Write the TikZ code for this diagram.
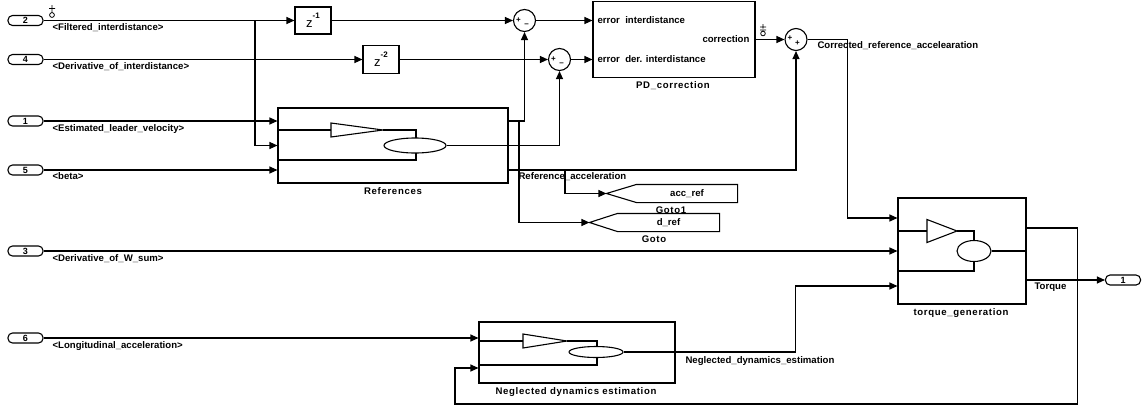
\documentclass[tikz,border=0pt]{standalone}
\usepackage{fontspec}
\setmainfont{Liberation Sans}
\newfontfamily\namefont[LetterSpace=7]{Liberation Sans}
\usetikzlibrary{arrows.meta,positioning,calc,shapes.geometric}
\newcommand{\zlabel}[1]{\raisebox{-3pt}{\fontsize{13}{13}\selectfont z}\raisebox{6pt}{\fontsize{8}{8}\selectfont\bfseries #1}}

\begin{document}
\begin{tikzpicture}[x=1pt,y=-1pt,line width=1.1pt,
port/.style={draw,rounded corners=4.5pt,minimum width=35pt,minimum height=10pt,inner sep=0pt,font=\fontsize{9}{9}\selectfont\bfseries},
block/.style={draw,inner sep=0pt},
sumblock/.style={draw,circle,minimum size=22pt,inner sep=0pt},
icon oval/.style={draw,ellipse,fill=white,inner sep=0pt},
goto body/.style={inner sep=0pt,minimum height=17pt,font=\fontsize{9.6}{11}\selectfont\bfseries},
sig/.style={-{Triangle[length=8pt,width=7pt]}},
sig label/.style={inner sep=0pt,anchor=base west,font=\fontsize{9.6}{11}\selectfont\bfseries},
block name/.style={inner sep=0pt,anchor=base,font=\namefont\fontsize{9.6}{11}\selectfont\bfseries},
sign/.style={inner sep=0pt,font=\fontsize{8}{8}\selectfont\bfseries}]
\useasboundingbox (0,0) rectangle (1142,407);
% ports
\node[port] (in2) at (25.5,20.5) {2};
\node[port] (in4) at (25.5,59.5) {4};
\node[port] (in1) at (25.5,121) {1};
\node[port] (in5) at (25.5,170) {5};
\node[port] (in3) at (25.5,251) {3};
\node[port] (in6) at (25.5,338) {6};
\node[port] (out1) at (1123,280) {1};
\node[sig label] at (52,30) {<Filtered\_interdistance>};
\node[sig label] at (52,69) {<Derivative\_of\_interdistance>};
\node[sig label] at (52,131) {<Estimated\_leader\_velocity>};
\node[sig label] at (52,179.5) {<beta>};
\node[sig label] at (52,261) {<Derivative\_of\_W\_sum>};
\node[sig label] at (52,348) {<Longitudinal\_acceleration>};
% blocks
\node[block,minimum width=36pt,minimum height=27pt] (zd1) at (313,20.5) {\zlabel{-1}};
\node[block,minimum width=36pt,minimum height=28pt] (zd2) at (381,59.5) {\zlabel{-2}};
\node[block,minimum width=162pt,minimum height=76pt] (pd) at (674,39.5) {};
\node[block,minimum width=230pt,minimum height=75pt] (refs) at (393,145.5) {};
\node[block,minimum width=128pt,minimum height=106pt] (torq) at (962,251) {};
\node[block,minimum width=196pt,minimum height=61pt] (ned) at (577,352.5) {};
\node[sumblock] (sum1) at (524.5,20.5) {};
\node[sumblock] (sum2) at (559.5,59.5) {};
\node[sumblock] (sum3) at (796,39.5) {};
\node[sign] at ($(sum1)+(-6,-0.5)$) {+};
\node[sign] at ($(sum1)+(2,4.5)$) {--};
\node[sign] at ($(sum2)+(-6,-0.5)$) {+};
\node[sign] at ($(sum2)+(2,4.5)$) {--};
\node[sign] at ($(sum3)+(-6,-1)$) {+};
\node[sign] at ($(sum3)+(1.5,3.5)$) {+};
\node[sig label] at (597,23.5) {error\ \ interdistance};
\node[sig label] at (597,62.5) {error\ \ der. interdistance};
\node[sig label,anchor=base east] at (750,42.5) {correction};
\node[block name] at (673,88.5) {PD\_correction};
\node[block name] at (393,194) {References};
\node[block name] at (961,315.5) {torque\_generation};
\node[block name] at (576,394) {Neglected dynamics estimation};
% block icons
\draw (278,130) -- (331,130);
\draw (331,123) -- (383,130) -- (331,137) -- cycle;
\draw (383,130) -- (416,130) -- (416,160) -- (278,160);
\node[icon oval,minimum width=62pt,minimum height=15pt] (refsov) at (415,145.5) {};
\draw (898,231) -- (927,231);
\draw (927,219.5) -- (957,231) -- (927,242.5) -- cycle;
\draw (957,231) -- (974,231) -- (974,271) -- (898,271);
\node[icon oval,minimum width=34pt,minimum height=21pt] (torqov) at (974,251) {};
\draw (torqov.east) -- (torq.east);
\draw (479,341) -- (523,341);
\draw (523,334) -- (567,341) -- (523,348) -- cycle;
\draw (567,341) -- (597,341) -- (597,365) -- (479,365);
\node[icon oval,minimum width=54pt,minimum height=11pt] (nedov) at (596,352) {};
% goto blocks
\node[goto body,minimum width=101pt] (dref) at (668.5,222.5) {d\_ref};
\draw (dref.north west) -- (dref.north east) -- (dref.south east) -- (dref.south west) -- ($(dref.west)+(-28,0)$) coordinate (dreftip) -- cycle;
\node[goto body,minimum width=100pt] (accref) at (687,193.5) {acc\_ref};
\draw (accref.north west) -- (accref.north east) -- (accref.south east) -- (accref.south west) -- ($(accref.west)+(-30,0)$) coordinate (acctip) -- cycle;
\node[block name] at (654,242.5) {Goto};
\node[block name] at (671,213.5) {Goto1};
% test points
\draw[line width=0.8pt] (49,8.5) -- (55,8.5) (52,5) -- (52,12.6) (52,15) circle (2.4);
\draw[line width=0.8pt] (763,24) -- (763,28.5) (760,27) -- (766,27) (760,30) -- (766,30) (763,33.5) circle (2.3);
% ports of blocks
\coordinate (jA) at (255,20.5);
\coordinate (r1) at (refs.east |- in1.east);
\coordinate (r3) at (refs.east |- in5.east);
\coordinate (jB) at (519,121);
\coordinate (jC) at (565,170);
\coordinate (tq1) at (torq.west |- 0,218);
\coordinate (tq3) at (torq.west |- 0,286);
\coordinate (tqo1) at (torq.east |- 0,228);
\coordinate (tqo2) at (torq.east |- 0,280);
\coordinate (nd2) at (ned.west |- 0,368);
\coordinate (fb) at (455,404);
% signals
\draw[sig] (in2.east) -- (zd1.west);
\draw[sig] (jA) |- (refs.west);
\draw[sig] (in4.east) -- (zd2.west);
\draw[sig] (in1.east) -- (in1.east -| refs.west);
\draw[sig] (in5.east) -- (in5.east -| refs.west);
\draw[sig] (zd1.east) -- (sum1.west);
\draw[sig] (zd2.east) -- (sum2.west);
\draw[sig] (r1) -| (sum1.south);
\draw[sig] (refsov.east) -| (sum2.south);
\draw[sig] (r3) -| (sum3.south);
\draw[sig] (jB) |- (dreftip);
\draw[sig] (jC) |- (acctip);
\draw[sig] (sum1.east) -- (sum1.east -| pd.west);
\draw[sig] (sum2.east) -- (sum2.east -| pd.west);
\draw[sig] (pd.east) -- (sum3.west);
\draw[sig] (sum3.east) -- ++(40,0) |- (tq1);
\draw[sig] (in3.east) -- (torq.west);
\draw[sig] (nedov.east) -- ++(172,0) |- (tq3);
\draw[sig] (tqo2) -- (out1.west);
\draw[sig] (tqo1) -- ++(51,0) |- (fb) |- (nd2);
\draw[sig] (in6.east) -- (in6.east -| ned.west);
\node[sig label] at (518,179.5) {Reference\_acceleration};
\node[sig label] at (817,48.5) {Corrected\_reference\_accelearation};
\node[sig label] at (685,363) {Neglected\_dynamics\_estimation};
\node[sig label] at (1034,289.5) {Torque};
\end{tikzpicture}
\end{document}
